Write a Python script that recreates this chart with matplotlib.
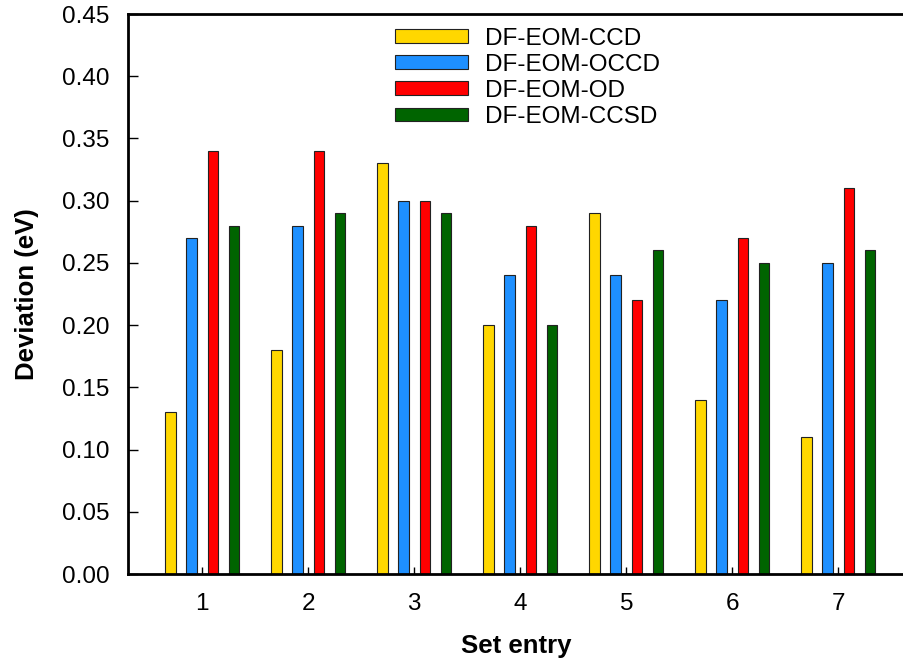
import numpy as np
import matplotlib.pyplot as plt
from matplotlib.patches import Patch

# Deviation per set entry for each method (eV)
entries = [1, 2, 3, 4, 5, 6, 7]
methods = ["DF-EOM-CCD", "DF-EOM-OCCD", "DF-EOM-OD", "DF-EOM-CCSD"]
ccd = [0.13, 0.18, 0.33, 0.20, 0.29, 0.14, 0.11]
occd = [0.27, 0.28, 0.30, 0.24, 0.24, 0.22, 0.25]
od = [0.34, 0.34, 0.30, 0.28, 0.22, 0.27, 0.31]
ccsd = [0.28, 0.29, 0.29, 0.20, 0.26, 0.25, 0.26]
colors = ["#FFD700", "#1E90FF", "#FF0000", "#006400"]

plt.rcParams["font.family"] = ["Liberation Sans", "DejaVu Sans"]

fig = plt.figure(figsize=(9.04, 6.61), dpi=100)
ax = fig.add_axes([0.1416, 0.1316, 0.8584, 0.8472])

x = np.array(entries)
width = 0.1
offsets = [-0.3, -0.1, 0.1, 0.3]
for vals, off, c in zip([ccd, occd, od, ccsd], offsets, colors):
    ax.bar(x + off, vals, width, color=c, edgecolor="#222222", linewidth=0.8)

ax.set_xlim(0.3, 7.62)
ax.set_ylim(0, 0.45)
ax.set_xticks(entries)
yt = np.arange(0, 0.451, 0.05)
ax.set_yticks(yt)
ax.set_yticklabels([f"{v:.2f}" for v in yt])

for side in ["left", "bottom", "top"]:
    ax.spines[side].set_linewidth(2)
ax.spines["right"].set_visible(False)

ax.tick_params(axis="y", direction="in", length=7, width=1, labelsize=17.5, pad=13.5)
ax.tick_params(axis="x", direction="in", length=5, width=1, labelsize=17.5, pad=14)

ax.set_xlabel("Set entry", fontsize=18.5, fontweight="bold", labelpad=13)
ax.set_ylabel("Deviation (eV)", fontsize=18.5, fontweight="bold", labelpad=16)

handles = [Patch(facecolor=c, edgecolor="#222222", linewidth=0.8) for c in colors]
ax.legend(handles, methods, loc="upper left", bbox_to_anchor=(0.437, 0.958),
          bbox_transform=fig.transFigure, borderaxespad=0, borderpad=0,
          frameon=False, fontsize=17.5, handlelength=3.0, handleheight=0.5,
          labelspacing=0.17, handletextpad=0.7)

fig.savefig("out.png", dpi=100)
